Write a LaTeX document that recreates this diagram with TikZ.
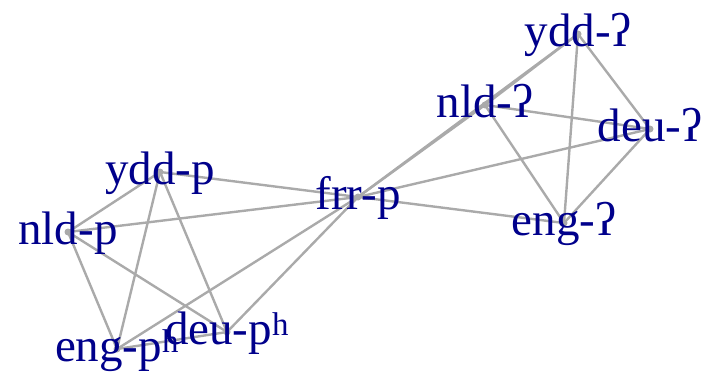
\documentclass[tikz,border=0pt]{standalone}
\usepackage{fontspec}
\setmainfont{Liberation Serif}
\usepackage{tikz}
\usetikzlibrary{backgrounds}
\definecolor{wordblue}{RGB}{0,0,139}
\definecolor{linkgray}{RGB}{170,170,170}
\tikzstyle{word}=[text=wordblue,inner sep=0pt,text height=33pt,text depth=8pt,
  font=\fontsize{47}{47}\selectfont]
\tikzstyle{link}=[draw=linkgray,line width=2.4pt]
\tikzstyle{dot}=[fill=linkgray]

\begin{document}
\begin{tikzpicture}[x=1pt,y=-1pt]
  \useasboundingbox (0,0) rectangle (711,391);
  % left group
  \node[word] (nldp) at (68,232) {nld-p};
  \node[word] (yddp) at (160,172) {ydd-p};
  \node[word] (engp) at (117,349) {eng-p\textsuperscript{h}};
  \node[word] (deup) at (227,332) {deu-p\textsuperscript{h}};
  \node[word] (frrp) at (358,197) {frr-p};
  % right group
  \node[word] (yddq) at (578,34) {ydd-ʔ};
  \node[word] (nldq) at (485,105) {nld-ʔ};
  \node[word] (deuq) at (650,129) {deu-ʔ};
  \node[word] (engq) at (564,223) {eng-ʔ};
  \begin{scope}[on background layer]
    \draw[link] (nldp.center) -- (yddp.center);
    \draw[link] (nldp.center) -- (engp.center);
    \draw[link] (nldp.center) -- (deup.center);
    \draw[link] (nldp.center) -- (frrp.center);
    \draw[link] (yddp.center) -- (engp.center);
    \draw[link] (yddp.center) -- (deup.center);
    \draw[link] (yddp.center) -- (frrp.center);
    \draw[link] (engp.center) -- (deup.center);
    \draw[link] (engp.center) -- (frrp.center);
    \draw[link] (deup.center) -- (frrp.center);
    \draw[link] (frrp.center) -- (nldq.center);
    \draw[link] (frrp.center) -- (yddq.center);
    \draw[link] (frrp.center) -- (deuq.center);
    \draw[link] (frrp.center) -- (engq.center);
    \draw[link] (nldq.center) -- (yddq.center);
    \draw[link] (nldq.center) -- (deuq.center);
    \draw[link] (nldq.center) -- (engq.center);
    \draw[link] (yddq.center) -- (deuq.center);
    \draw[link] (yddq.center) -- (engq.center);
    \draw[link] (deuq.center) -- (engq.center);
    \foreach \n in {nldp,yddp,engp,deup,frrp,yddq,nldq,deuq,engq}
      \fill[dot] (\n.center) circle (3.5);
  \end{scope}
\end{tikzpicture}
\end{document}
